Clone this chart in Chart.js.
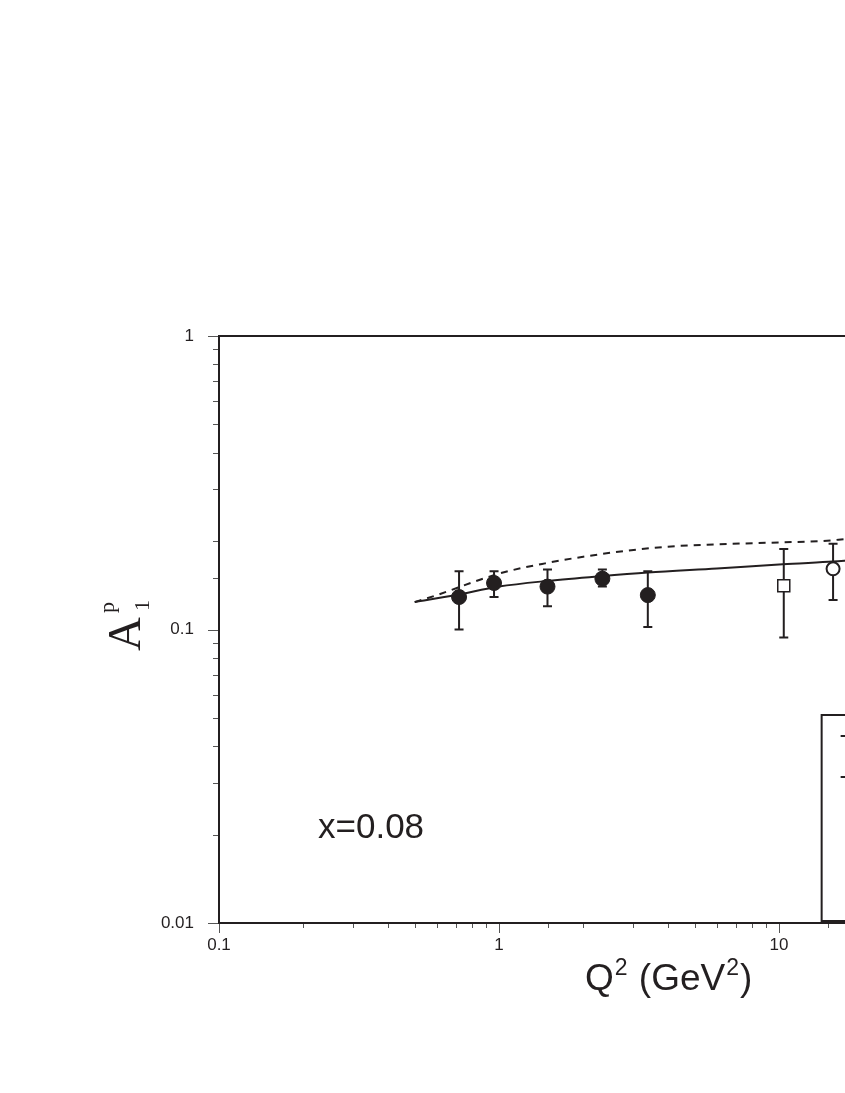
<!DOCTYPE html>
<html>
<head>
<meta charset="utf-8">
<script src="https://cdn.jsdelivr.net/npm/chart.js@4/dist/chart.umd.min.js"></script>
<style>
html,body{margin:0;padding:0;background:#fff;overflow:hidden;width:845px;height:1093px;}
#wrap{position:relative;width:1100px;height:1093px;}
</style>
</head>
<body>
<div id="wrap"><canvas id="c" width="1100" height="1093"></canvas></div>
<script>
// ---- data ----
const clasQ2 = [0.72, 0.96, 1.49, 2.34, 3.40];
const clasA1 = [0.129, 0.144, 0.140, 0.149, 0.131];
const clasLo = [0.100, 0.129, 0.120, 0.140, 0.102];
const clasHi = [0.158, 0.158, 0.160, 0.160, 0.158];

const sqQ2 = [10.4];
const sqA1 = [0.141];
const sqLo = [0.094];
const sqHi = [0.188];

const ocQ2 = [15.6];
const ocA1 = [0.161];
const ocLo = [0.126];
const ocHi = [0.196];

const solidQ2 = [0.5, 0.7, 1.0, 1.5, 2.3, 3.4, 6.0, 10.0, 15.0, 20.0];
const solidA1 = [0.124, 0.131, 0.140, 0.1465, 0.152, 0.1565, 0.1615, 0.1665, 0.170, 0.174];

const dashQ2 = [0.5, 0.6, 0.85, 1.05, 1.46, 2.0, 2.8, 4.0, 6.0, 10.0, 14.0, 17.0, 20.0];
const dashA1 = [0.124, 0.131, 0.1475, 0.157, 0.168, 0.177, 0.185, 0.1915, 0.195, 0.198, 0.200, 0.203, 0.206];

const yTicks = [0.01, 0.1, 1];
const xTicks = [0.1, 1, 10, 100];

const pts = (xs, ys) => xs.map((x, i) => ({x: x, y: ys[i]}));
const INK = '#231f20';

const errPlugin = {
  id: 'errbars',
  beforeDatasetsDraw(chart) {
    const ctx = chart.ctx, xs = chart.scales.x, ys = chart.scales.y;
    chart.data.datasets.forEach(ds => {
      if (!ds.errLo) return;
      ds.data.forEach((p, i) => {
        const px = xs.getPixelForValue(p.x);
        const y1 = ys.getPixelForValue(ds.errLo[i]);
        const y2 = ys.getPixelForValue(ds.errHi[i]);
        ctx.save();
        ctx.strokeStyle = INK; ctx.lineWidth = 2;
        ctx.beginPath();
        ctx.moveTo(px, y1); ctx.lineTo(px, y2);
        ctx.moveTo(px - 4.5, y1); ctx.lineTo(px + 4.5, y1);
        ctx.moveTo(px - 4.5, y2); ctx.lineTo(px + 4.5, y2);
        ctx.stroke();
        ctx.restore();
      });
    });
  }
};

const framePlugin = {
  id: 'frame',
  afterDraw(chart) {
    const ctx = chart.ctx, a = chart.chartArea;
    const xs = chart.scales.x, ys = chart.scales.y;
    ctx.save();
    // ticks
    ctx.lineWidth = 1;
    ctx.strokeStyle = '#555';
    const isPow = v => Math.abs(Math.log10(v) - Math.round(Math.log10(v))) < 1e-6;
    ys.ticks.forEach(t => {
      const y = Math.round(ys.getPixelForValue(t.value)) + 0.5;
      const len = isPow(t.value) ? 11 : 6;
      ctx.beginPath(); ctx.moveTo(a.left - len, y); ctx.lineTo(a.left, y); ctx.stroke();
    });
    xs.ticks.forEach(t => {
      const x = Math.round(xs.getPixelForValue(t.value)) + 0.5;
      const len = isPow(t.value) ? 10 : 5;
      ctx.beginPath(); ctx.moveTo(x, a.bottom); ctx.lineTo(x, a.bottom + len); ctx.stroke();
    });
    // frame
    ctx.strokeStyle = INK;
    ctx.lineWidth = 2;
    ctx.strokeRect(a.left, a.top, a.right - a.left, a.bottom - a.top);

    // legend box (partly outside the window)
    const lx = xs.getPixelForValue(14.2), ly = a.top + 379;
    ctx.lineWidth = 2;
    ctx.strokeRect(lx, ly, 240, a.bottom - 2 - ly);
    ctx.beginPath(); ctx.moveTo(lx + 19, ly + 21); ctx.lineTo(lx + 60, ly + 21); ctx.stroke();
    ctx.setLineDash([7, 6]);
    ctx.beginPath(); ctx.moveTo(lx + 19, ly + 62); ctx.lineTo(lx + 60, ly + 62); ctx.stroke();
    ctx.setLineDash([]);

    // x = 0.08 label
    ctx.fillStyle = INK;
    ctx.font = '35px "Liberation Sans", Arial, sans-serif';
    ctx.textBaseline = 'alphabetic';
    ctx.textAlign = 'left';
    ctx.fillText('x=0.08', a.left + 99, a.top + 502);

    // x axis title Q^2 (GeV^2)
    let x = 585, base = 990;
    const big = '37px "Liberation Sans", Arial, sans-serif';
    const sup = '23px "Liberation Sans", Arial, sans-serif';
    const seg = [['Q', big, 0, 1], ['2', sup, -15, 1], [' (GeV', big, 0, 1], ['2', sup, -15, 1], [')', big, 0, 0]];
    seg.forEach(s => {
      ctx.font = s[1];
      ctx.fillText(s[0], x, base + s[2]);
      x += ctx.measureText(s[0]).width + s[3];
    });

    // y axis title A_1^p rotated
    ctx.save();
    ctx.translate(140, 651);
    ctx.rotate(-Math.PI / 2);
    ctx.font = '47px "Liberation Serif", "Times New Roman", serif';
    ctx.fillText('A', 0, 0);
    const w = ctx.measureText('A').width;
    ctx.font = '22px "Liberation Serif", "Times New Roman", serif';
    ctx.fillText('1', w + 6, 9);
    ctx.fillText('p', w + 4, -26);
    ctx.restore();

    ctx.restore();
  }
};

new Chart(document.getElementById('c'), {
  type: 'scatter',
  data: {
    datasets: [
      { label: 'CLAS', data: pts(clasQ2, clasA1), errLo: clasLo, errHi: clasHi,
        pointStyle: 'circle', pointRadius: 7.5, backgroundColor: INK, borderColor: INK, borderWidth: 1, showLine: false },
      { label: 'square', data: pts(sqQ2, sqA1), errLo: sqLo, errHi: sqHi,
        pointStyle: 'rect', pointRadius: 8.5, backgroundColor: '#fff', borderColor: INK, borderWidth: 1.5, showLine: false },
      { label: 'open', data: pts(ocQ2, ocA1), errLo: ocLo, errHi: ocHi,
        pointStyle: 'circle', pointRadius: 6.5, backgroundColor: '#fff', borderColor: INK, borderWidth: 2, showLine: false },
      { label: 'solid', data: pts(solidQ2, solidA1), showLine: true, pointRadius: 0,
        borderColor: INK, borderWidth: 2, cubicInterpolationMode: 'monotone' },
      { label: 'dashed', data: pts(dashQ2, dashA1), showLine: true, pointRadius: 0,
        borderColor: INK, borderWidth: 2, borderDash: [7, 6], cubicInterpolationMode: 'monotone' }
    ]
  },
  options: {
    responsive: false,
    animation: false,
    events: [],
    layout: { padding: { top: 336, right: 41, left: 0, bottom: 0 } },
    plugins: { legend: { display: false }, tooltip: { enabled: false } },
    scales: {
      x: {
        type: 'logarithmic', min: 0.1, max: 100,
        grid: { display: false, drawTicks: false },
        border: { display: false },
        afterFit: s => { s.height = 170; },
        ticks: {
          autoSkip: false, maxRotation: 0, padding: 12, color: INK,
          font: { family: '"Liberation Sans", Arial, sans-serif', size: 17 },
          callback: v => xTicks.some(t => Math.abs(t - v) / t < 1e-6) ? String(Number(v.toPrecision(6))) : ''
        }
      },
      y: {
        type: 'logarithmic', min: 0.01, max: 1,
        grid: { display: false, drawTicks: false },
        border: { display: false },
        afterFit: s => { s.width = 219; },
        ticks: {
          autoSkip: false, padding: 25, color: INK,
          font: { family: '"Liberation Sans", Arial, sans-serif', size: 17 },
          callback: v => yTicks.some(t => Math.abs(t - v) / t < 1e-6) ? String(Number(v.toPrecision(6))) : ''
        }
      }
    }
  },
  plugins: [errPlugin, framePlugin]
});
</script>
</body>
</html>
